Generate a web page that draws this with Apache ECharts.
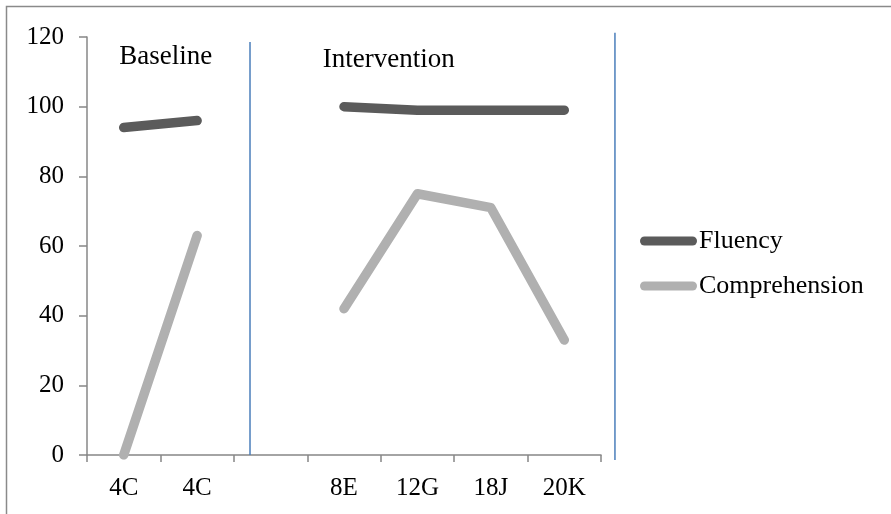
<!DOCTYPE html>
<html>
<head>
<meta charset="utf-8">
<style>
  html, body { margin: 0; padding: 0; background: #ffffff; }
  #chart { width: 891px; height: 514px; }
</style>
<script src="https://cdn.jsdelivr.net/npm/echarts@6/dist/echarts.min.js"></script>
</head>
<body>
<div id="chart"></div>
<script>
// Session labels along the x axis (the blank slot separates the two phases)
const categories = ['4C', '4C', '', '8E', '12G', '18J', '20K'];

// Percent scores per session
const fluency       = [94, 96, null, 100, 99, 99, 99];
const comprehension = [0, 63, null, 42, 75, 71, 33];

// Y axis scale
const yTicks = { min: 0, max: 120, step: 20 };

// Phase-change lines, in session units on a 0..7 scale: [x, yFrom, yTo]
const phaseLines = [
  [2.22, 118.6, 0],
  [7.19, 121.2, -1.4]
];

// Phase titles: [x, y, text]
const phaseTitles = [
  [0.44, 114.3, 'Baseline'],
  [3.21, 113.4, 'Intervention']
];

const FONT = '"Liberation Serif", "Times New Roman", serif';
const AXIS_GREY = '#878787';

const chart = echarts.init(document.getElementById('chart'), null, { renderer: 'canvas' });

chart.setOption({
  animation: false,
  backgroundColor: '#ffffff',
  textStyle: { fontFamily: FONT },
  grid: { left: 87, right: 290, top: 37, bottom: 59, containLabel: false },
  legend: {
    orient: 'vertical',
    left: 635,
    top: 223,
    itemWidth: 57,
    itemHeight: 9,
    itemGap: 19,
    icon: 'path://M4.5,0 L52.5,0 A4.5,4.5 0 0 1 52.5,9 L4.5,9 A4.5,4.5 0 0 1 4.5,0 Z',
    textStyle: { fontFamily: FONT, fontSize: 26, color: '#000', padding: [0, 0, 0, -3], lineHeight: 26 },
    data: ['Fluency', 'Comprehension']
  },
  xAxis: [
    {
      type: 'category',
      data: categories,
      boundaryGap: true,
      axisLine: { show: true, lineStyle: { color: AXIS_GREY, width: 1.5 } },
      axisTick: { show: true, interval: 0, length: 7, lineStyle: { color: AXIS_GREY, width: 1.5 } },
      axisLabel: { interval: 0, margin: 21, fontFamily: FONT, fontSize: 25, color: '#000' },
      splitLine: { show: false }
    },
    {
      type: 'value',
      min: 0,
      max: 7,
      show: false
    }
  ],
  yAxis: {
    type: 'value',
    min: yTicks.min,
    max: yTicks.max,
    interval: yTicks.step,
    axisLine: { show: true, lineStyle: { color: AXIS_GREY, width: 1.5 } },
    axisTick: { show: true, length: 8, lineStyle: { color: AXIS_GREY, width: 1.5 } },
    axisLabel: { margin: 23, fontFamily: FONT, fontSize: 25, color: '#000' },
    splitLine: { show: false }
  },
  series: [
    {
      name: 'Fluency',
      type: 'line',
      data: fluency,
      showSymbol: false,
      symbol: 'none',
      connectNulls: false,
      color: '#5b5b5b',
      lineStyle: { color: '#5b5b5b', width: 9.5, cap: 'round', join: 'round' },
      z: 3
    },
    {
      name: 'Comprehension',
      type: 'line',
      data: comprehension,
      showSymbol: false,
      symbol: 'none',
      connectNulls: false,
      color: '#b0b0b0',
      lineStyle: { color: '#b0b0b0', width: 9.5, cap: 'round', join: 'round' },
      z: 2
    },
    {
      name: 'phase lines',
      type: 'custom',
      xAxisIndex: 1,
      clip: false,
      silent: true,
      data: phaseLines,
      renderItem: function (params, api) {
        const p1 = api.coord([api.value(0), api.value(1)]);
        const p2 = api.coord([api.value(0), api.value(2)]);
        return {
          type: 'line',
          shape: { x1: p1[0], y1: p1[1], x2: p2[0], y2: p2[1] },
          style: { stroke: '#4a7ebb', lineWidth: 1.5 }
        };
      },
      z: 1
    },
    {
      name: 'phase titles',
      type: 'custom',
      xAxisIndex: 1,
      clip: false,
      silent: true,
      data: phaseTitles,
      renderItem: function (params, api) {
        const p = api.coord([api.value(0), api.value(1)]);
        return {
          type: 'text',
          x: p[0],
          y: p[1],
          style: {
            text: phaseTitles[params.dataIndex][2],
            fontFamily: FONT,
            fontSize: 27,
            fill: '#000',
            align: 'left',
            verticalAlign: 'middle'
          }
        };
      },
      z: 4
    }
  ],
  graphic: [
    {
      type: 'rect',
      shape: { x: 6.5, y: 6.5, width: 1000, height: 1000 },
      style: { fill: 'none', stroke: '#8a8a8a', lineWidth: 1.5 },
      silent: true,
      z: 0
    }
  ]
});
</script>
</body>
</html>
